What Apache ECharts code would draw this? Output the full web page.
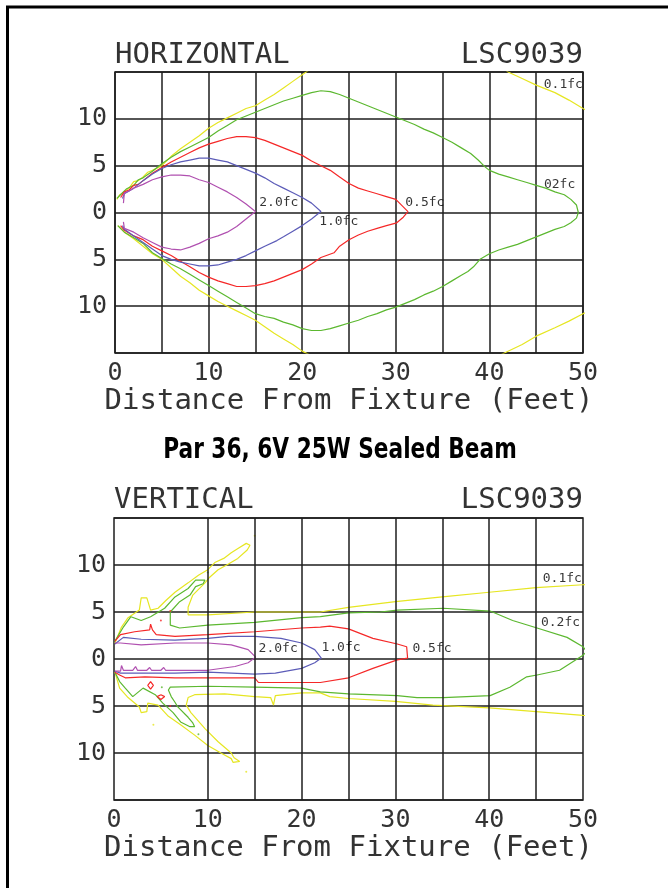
<!DOCTYPE html>
<html>
<head>
<meta charset="utf-8">
<script src="https://cdn.jsdelivr.net/npm/echarts@6/dist/echarts.min.js"></script>
<style>html,body{margin:0;padding:0;background:#fff;}#c{width:668px;height:888px;}</style>
</head>
<body>
<div id="c"></div>
<script>
// ---------- HORIZONTAL pattern (top chart): [distance ft, offset ft] ----------
const hz01 = [[0.2,1.4],[0.5,1.9],[1,2.2],[1.5,2.6],[2,3.3],[2.5,3.4],[3,3.8],[3.5,4.3],[4,4.5],[5,5.0],[6,6.0],[7,6.8],[8,7.5],[9,8.2],[10,9.0],[11,9.6],[12,10.1],[13,10.6],[14,11.1],[15,11.4],[16,12.0],[17,12.6],[18,13.3],[19,14.0],[20,14.7],[21,15.4],[25,17.5],[40,16.5],[42,15.0],[43.5,14.3],[45,13.6],[47,12.8],[48.5,12.0],[50,11.1],[52,10],
  [52,-10],[50,-10.8],[48.5,-11.6],[47,-12.3],[45,-13.2],[43.5,-14.1],[41.6,-15],[40,-15.8],[25,-17.5],[21,-15.3],[20,-14.8],[19,-14.1],[18,-13.5],[17,-12.9],[16,-12.2],[15,-11.5],[14,-11.0],[13,-10.5],[12,-10.0],[11,-9.5],[10,-8.9],[9,-8.3],[8,-7.5],[7,-6.8],[6,-5.9],[5,-5.0],[4,-4.4],[3,-3.6],[2,-2.8],[1,-2.1],[0.3,-1.4]];
const hz02 = [[0.2,1.5],[0.7,2.0],[1.2,2.5],[2,2.9],[2.5,3.5],[3,3.7],[4,4.4],[5,5.2],[6,5.9],[7,6.5],[8,7.0],[9,7.5],[10,8.0],[11,8.7],[12,9.3],[13,9.9],[14,10.3],[15,10.7],[16,11.1],[17,11.5],[18,11.9],[19,12.2],[20,12.5],[21,12.8],[22,13.0],[23,12.9],[24,12.6],[25,12.2],[26,11.8],[27,11.4],[28,11.0],[29,10.6],[30,10.2],[31,9.8],[32,9.4],[33,8.9],[34,8.5],[35,8.0],[36,7.5],[37,6.9],[38,6.3],[38.8,5.6],[39.5,4.9],[40,4.5],[41,4.1],[42,3.8],[43,3.5],[44,3.2],[45,2.9],[46,2.6],[47,2.2],[48,1.9],[48.7,1.4],[49.3,0.8],[49.5,0],
  [49.3,-0.6],[48.7,-1.1],[48,-1.5],[47,-1.8],[46,-2.2],[45,-2.6],[44,-3.0],[43,-3.4],[42,-3.7],[41,-4.0],[40,-4.4],[39,-5.0],[38.3,-5.8],[37.7,-6.3],[37,-6.7],[36,-7.3],[35,-7.9],[34,-8.4],[33,-8.8],[32,-9.3],[31,-9.7],[30,-10.1],[29,-10.4],[28,-10.8],[27,-11.1],[26,-11.5],[25,-11.8],[24,-12.1],[23,-12.4],[22,-12.6],[21,-12.6],[20,-12.4],[19,-12.0],[18,-11.7],[17,-11.3],[16,-11.1],[15,-10.8],[14,-10.2],[13,-9.6],[12,-9.0],[11,-8.4],[10,-7.8],[9,-7.2],[8,-6.6],[7,-6.0],[6,-5.5],[5,-4.9],[4,-4.3],[3,-3.3],[2,-2.7],[1,-2.1],[0.3,-1.4]];
const hz05 = [[0.6,1.6],[1,2.2],[1.5,2.4],[2,2.9],[2.5,3.0],[3,3.4],[4,4.2],[5,4.8],[6,5.4],[7,5.9],[8,6.4],[9,6.9],[10,7.3],[11,7.6],[12,7.9],[13,8.1],[14,8.1],[15,8.0],[16,7.7],[17,7.3],[18,6.9],[19,6.5],[20,6.1],[21,5.5],[22,5.0],[23,4.5],[24,3.8],[25,3.1],[26,2.6],[27,2.3],[28,2.0],[29,1.7],[30,1.4],[31.3,0.1],
  [30.8,-0.5],[30.1,-1.1],[29,-1.4],[28,-1.7],[27,-2.0],[26,-2.4],[25,-2.9],[24,-3.6],[23.4,-4.3],[22,-4.8],[21,-5.5],[20,-6.1],[19,-6.5],[18,-6.9],[17,-7.3],[16,-7.6],[15,-7.8],[14,-7.9],[13,-7.9],[12,-7.6],[11,-7.3],[10,-6.9],[9,-6.4],[8,-5.8],[7,-5.2],[6,-4.6],[5,-4.1],[4,-3.6],[3,-2.9],[2,-2.5],[1,-1.9],[0.6,-1.4]];
const hz10 = [[0.8,1.5],[1,2.0],[2,2.6],[3,3.4],[4,4.1],[5,4.7],[6,5.1],[7,5.4],[8,5.6],[9,5.8],[10,5.8],[11,5.6],[12,5.4],[13,5.0],[14,4.6],[15,4.2],[16,3.7],[17,3.1],[18,2.6],[19,2.1],[20,1.6],[21,1.0],[22,0.1],
  [21,-0.7],[20,-1.4],[19,-2.0],[18,-2.6],[17.3,-3.0],[16,-3.6],[15,-4.1],[14,-4.6],[13,-5.0],[12,-5.3],[11,-5.6],[10,-5.7],[9,-5.7],[8,-5.5],[7,-5.3],[6,-5.0],[5,-4.6],[4,-3.9],[3,-3.2],[2,-2.5],[1,-1.8],[0.8,-1.4]];
const hz20 = [[0.9,1.0],[1,2.1],[1.5,2.3],[2,2.6],[3,3.0],[4,3.5],[5,3.8],[6,4.0],[7,4.0],[8,3.9],[9,3.5],[10,3.2],[11,2.7],[12,2.2],[13,1.6],[14,0.9],[15,0.1],
  [14,-0.7],[13,-1.5],[12,-2.1],[11,-2.5],[10,-2.8],[9,-3.3],[8,-3.7],[7,-4.0],[6,-3.9],[5,-3.7],[4,-3.2],[3,-2.7],[2,-2.1],[1,-1.7],[0.9,-1.0]];
const hzLabels = [['2.0fc',17.5,1.1],['1.0fc',23.9,-1.0],['0.5fc',33.1,1.1],['0.1fc',47.9,13.6],['02fc',47.5,3.0]];

// ---------- VERTICAL pattern (bottom chart) ----------
const vt01 = [[0.1,1.7],[0.8,3.4],[1.5,4.4],[2.7,5.2],[2.9,6.5],[3.5,6.5],[3.9,5.2],[4.7,5.4],[5.5,6.2],[6.5,7.1],[7.9,8.1],[9,8.9],[10,9.5],[10.8,10.3],[11.7,10.7],[12.5,11.3],[13.3,11.8],[14.1,12.3],[14.5,12.1],[14.2,11.6],[13.2,10.7],[12.2,10.1],[11.1,9.5],[10.2,8.7],[9.7,8.1],[8.4,6.8],[7.9,5.5],[7.9,4.7],[10,4.7],[15,5.0],[20,5.0],[22,5.0],[25,5.5],[30,6.1],[35,6.6],[40,7.1],[45,7.6],[50,7.9],[52,8.0],
  [52,-6.1],[50,-6.0],[45,-5.6],[40,-5.2],[34,-4.9],[30,-4.5],[25,-4.2],[23,-4.0],[22,-3.6],[20,-3.6],[17.2,-3.9],[17,-4.9],[16.7,-4.1],[15,-4.0],[11.8,-3.7],[8.6,-3.8],[7.9,-4.1],[7.7,-4.9],[8.2,-5.7],[9.7,-7.4],[11.1,-8.8],[12.5,-10],[12.8,-10.5],[13.4,-10.9],[12.7,-11],[12.5,-10.6],[11.4,-10.0],[10,-9.2],[8.6,-8.1],[7.1,-7.0],[5.8,-6.1],[4.7,-4.9],[3.6,-4.7],[3.5,-5.6],[2.9,-5.7],[2.7,-5.1],[1.5,-4.1],[0.6,-3.1],[0.1,-1.4]];
const vt02 = [[0.1,1.9],[1,3.4],[1.8,4.5],[2.9,4.1],[3.9,4.5],[5.4,5.4],[6.5,6.6],[7.9,7.5],[8.7,8.4],[9.7,8.4],[9.5,8.0],[8.7,7.7],[8.1,6.8],[7.0,6.1],[6.0,5.0],[6.0,3.6],[7.0,3.3],[10,3.6],[15,3.9],[20,4.4],[22,4.5],[25,4.9],[28.4,5.0],[30.2,5.2],[35.1,5.4],[40.1,5.1],[42.5,4.1],[45.1,3.3],[48.3,2.3],[50,1.3],[50.4,0.8],
  [50,0.4],[47.5,-1.2],[45.1,-1.7],[44,-1.9],[42.2,-3.0],[40.1,-3.9],[35.1,-4.1],[32.3,-4.1],[30.2,-3.9],[25,-3.7],[22,-3.5],[20,-3.1],[15,-3.0],[10,-2.9],[6,-3.0],[5.8,-3.3],[6.1,-4.0],[6.5,-4.6],[6.8,-5.1],[7.9,-6.2],[8.4,-6.8],[8.6,-7.2],[8.1,-7.2],[7.1,-6.7],[6.3,-5.7],[5.2,-4.7],[4.4,-3.8],[3.1,-3.1],[2.0,-4.0],[1.2,-3.1],[0.6,-2.4],[0.1,-1.4]];
const vt05 = [[0.1,1.9],[0.7,2.6],[2.2,2.9],[3.8,3.1],[3.9,3.7],[4.1,3.1],[4.5,2.6],[6.5,2.4],[10,2.6],[15,2.9],[20,3.3],[22,3.4],[23,3.5],[25,3.2],[27.6,2.2],[30.2,1.6],[31.2,1.3],[31.3,0.1],
  [30.2,-0.1],[27.6,-1.0],[25,-2.0],[22,-2.5],[20,-2.5],[15.4,-2.5],[15,-2.0],[10,-2.0],[6.5,-2.0],[3.3,-1.9],[1.2,-2.0],[0.6,-1.7],[0.1,-1.4]];
const vt10 = [[0.1,1.6],[1,2.3],[2.9,2.1],[6.5,2.0],[10,2.2],[12.2,2.4],[15,2.4],[17.8,2.2],[20,1.7],[21.4,1.0],[22.1,0.1],
  [21.4,-0.4],[20,-1.0],[17.2,-1.5],[15,-1.6],[10,-1.4],[6.5,-1.5],[2.9,-1.5],[0.7,-1.5],[0.1,-1.3]];
const vt20 = [[0.1,1.7],[0.7,1.7],[2.9,1.5],[6.5,1.7],[10,1.7],[12.5,1.5],[14.3,1.0],[15.1,0.2],
  [14.3,-0.4],[12.9,-0.8],[10,-1.2],[6.5,-1.2],[5.5,-1.2],[5.3,-0.9],[5.0,-1.2],[4,-1.2],[3.8,-0.9],[3.5,-1.2],[2.5,-1.2],[2.3,-0.8],[2.0,-1.2],[1.0,-1.2],[0.8,-0.7],[0.7,-1.3],[0.1,-1.3]];
const vtRedLoopA = [[3.9,-2.4],[4.2,-2.8],[3.9,-3.2],[3.6,-2.8],[3.9,-2.4]];
const vtRedLoopB = [[5.0,-3.8],[5.4,-4.0],[5.0,-4.3],[4.6,-4.0],[5.0,-3.8]];
const vtDotsRed = [[6,5.1],[5,4.1],[6,-5.0]];
const vtDotsGreen = [[10,9.2],[5.1,-3.0],[9,-8.0]];
const vtDotsYellow = [[15,13.1],[4.2,-7.0],[14.1,-12.0]];
const vtLabels = [['2.0fc',17.5,1.1],['1.0fc',24.2,1.2],['0.5fc',33.9,1.1],['0.1fc',47.8,8.6],['0.2fc',47.6,3.9]];

// ---------- axes ----------
const xMin = 0, xMax = 50, xStep = 5;
const yMin = -15, yMax = 15, yStep = 5;
const vtGridX = [10,15,20,25,30,35,40,45];

const COLORS = {c01:'#e6e622', c02:'#5cb830', c05:'#f52828', c10:'#5c5cb8', c20:'#b050b0'};
const MONO = "'DejaVu Sans Mono', monospace";
const TXT = '#333';
const GRIDC = '#1e1e1e';

function lineSeries(data, color, idx){
  return {type:'line', data:data, xAxisIndex:idx, yAxisIndex:idx, showSymbol:false, symbol:'none',
    lineStyle:{color:color, width:1.2}, itemStyle:{color:color}, clip:true, silent:true, animation:false, z:3};
}
function dotSeries(data, color, idx){
  return {type:'scatter', data:data, xAxisIndex:idx, yAxisIndex:idx, symbolSize:2, itemStyle:{color:color}, silent:true, animation:false, z:3};
}
function labelSeries(arr, idx){
  return {type:'scatter', xAxisIndex:idx, yAxisIndex:idx, symbolSize:0, silent:true, animation:false, z:5,
    data: arr.map(a => ({name:a[0], value:[a[1],a[2]]})),
    label:{show:true, position:'inside', formatter:'{b}', fontFamily:MONO, fontSize:13, color:'#000'}};
}
function xAxisDef(idx, split){
  return {type:'value', gridIndex:idx, min:xMin, max:xMax, interval:xStep,
    axisLine:{show:false}, axisTick:{show:false},
    axisLabel:{formatter:v => (v % 10 === 0 ? String(v) : ''), fontFamily:MONO, fontSize:25, color:TXT, margin:8},
    splitLine:{show:split, lineStyle:{color:GRIDC, width:1.5}},
    name:'Distance From Fixture (Feet)', nameLocation:'middle', nameGap:32,
    nameTextStyle:{fontFamily:MONO, fontSize:29, color:TXT}};
}
function yAxisDef(idx){
  return {type:'value', gridIndex:idx, min:yMin, max:yMax, interval:yStep,
    axisLine:{show:false}, axisTick:{show:false},
    axisLabel:{formatter:v => (Math.abs(v) === 15 ? '' : String(Math.abs(v))), fontFamily:MONO, fontSize:25, color:TXT, margin:8},
    splitLine:{show:true, lineStyle:{color:GRIDC, width:1.5}}};
}

const chart = echarts.init(document.getElementById('c'), null, {renderer:'canvas'});
chart.setOption({
  animation:false,
  backgroundColor:'#fff',
  grid:[
    {left:115, top:72, width:468, height:281, show:true, borderColor:GRIDC, borderWidth:1.5, backgroundColor:'transparent'},
    {left:114, top:518, width:469, height:282, show:true, borderColor:GRIDC, borderWidth:1.5, backgroundColor:'transparent'}
  ],
  xAxis:[xAxisDef(0,true), xAxisDef(1,false)],
  yAxis:[yAxisDef(0), yAxisDef(1)],
  series:[
    lineSeries(hz01, COLORS.c01, 0),
    lineSeries(hz02, COLORS.c02, 0),
    lineSeries(hz05, COLORS.c05, 0),
    lineSeries(hz10, COLORS.c10, 0),
    lineSeries(hz20, COLORS.c20, 0),
    labelSeries(hzLabels, 0),
    {type:'line', xAxisIndex:1, yAxisIndex:1, data:[], silent:true, animation:false,
      markLine:{silent:true, symbol:'none', animation:false, label:{show:false},
        lineStyle:{color:GRIDC, width:1.5, type:'solid'},
        data: vtGridX.map(v => ({xAxis:v}))}},
    lineSeries(vt01, COLORS.c01, 1),
    lineSeries(vt02, COLORS.c02, 1),
    lineSeries(vt05, COLORS.c05, 1),
    lineSeries(vt10, COLORS.c10, 1),
    lineSeries(vt20, COLORS.c20, 1),
    lineSeries(vtRedLoopA, COLORS.c05, 1),
    lineSeries(vtRedLoopB, COLORS.c05, 1),
    dotSeries(vtDotsRed, COLORS.c05, 1),
    dotSeries(vtDotsGreen, COLORS.c02, 1),
    dotSeries(vtDotsYellow, COLORS.c01, 1),
    labelSeries(vtLabels, 1)
  ],
  graphic:[
    {type:'rect', shape:{x:7.5, y:7, width:720, height:920}, style:{fill:'none', stroke:'#000', lineWidth:3}, silent:true},
    {type:'text', x:115, y:55, style:{text:'HORIZONTAL', font:"29px 'DejaVu Sans Mono'", fill:TXT, textAlign:'left', textVerticalAlign:'middle'}},
    {type:'text', x:583, y:55, style:{text:'LSC9039', font:"29px 'DejaVu Sans Mono'", fill:TXT, textAlign:'right', textVerticalAlign:'middle'}},
    {type:'text', x:340, y:451, scaleX:0.86, style:{text:'Par 36, 6V 25W Sealed Beam', font:"bold 28px 'DejaVu Sans Condensed', sans-serif", fill:'#000', textAlign:'center', textVerticalAlign:'middle'}},
    {type:'text', x:114, y:500, style:{text:'VERTICAL', font:"29px 'DejaVu Sans Mono'", fill:TXT, textAlign:'left', textVerticalAlign:'middle'}},
    {type:'text', x:583, y:500, style:{text:'LSC9039', font:"29px 'DejaVu Sans Mono'", fill:TXT, textAlign:'right', textVerticalAlign:'middle'}}
  ]
});
</script>
</body>
</html>
